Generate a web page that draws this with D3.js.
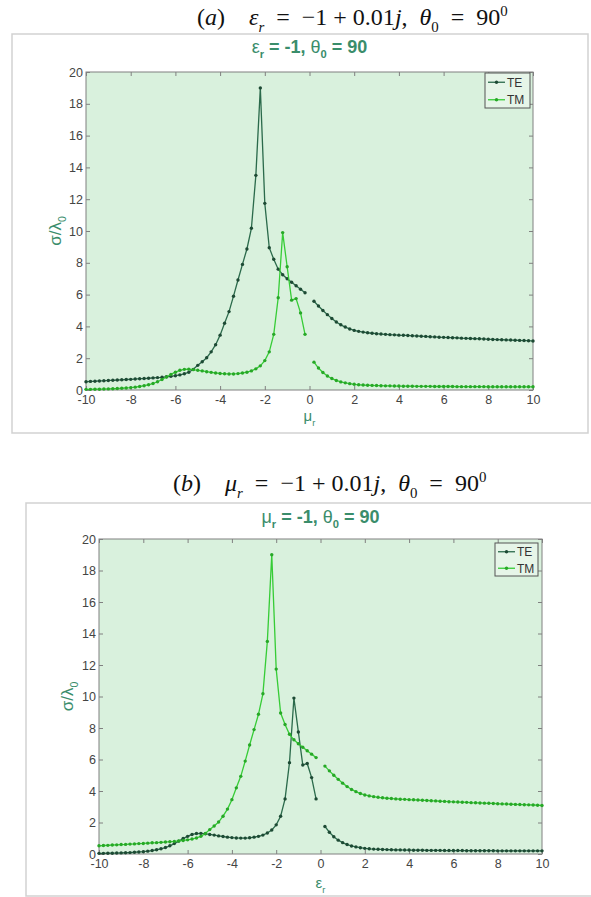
<!DOCTYPE html>
<html>
<head>
<meta charset="utf-8">
<script src="https://cdn.jsdelivr.net/npm/d3@7"></script>
<style>
  body { margin: 0; background: #ffffff; }
  svg { display: block; }
  .pre { white-space: pre; }
</style>
</head>
<body>
<script>
// Sampling grid of the swept parameter (the point at 0 is excluded)
const xLeft = [-10, -9.8, -9.6, -9.4, -9.2, -9, -8.8, -8.6, -8.4, -8.2,
  -8, -7.8, -7.6, -7.4, -7.2, -7, -6.8, -6.6, -6.4, -6.2,
  -6, -5.8, -5.6, -5.4, -5.2, -5, -4.8, -4.6, -4.4, -4.2,
  -4, -3.8, -3.6, -3.4, -3.2, -3, -2.8, -2.6, -2.4, -2.2,
  -2, -1.8, -1.6, -1.4, -1.2, -1, -0.8, -0.6, -0.4, -0.2];
const xRight = [0.2, 0.4, 0.6, 0.8, 1, 1.2, 1.4, 1.6, 1.8, 2,
  2.2, 2.4, 2.6, 2.8, 3, 3.2, 3.4, 3.6, 3.8, 4,
  4.2, 4.4, 4.6, 4.8, 5, 5.2, 5.4, 5.6, 5.8, 6,
  6.2, 6.4, 6.6, 6.8, 7, 7.2, 7.4, 7.6, 7.8, 8,
  8.2, 8.4, 8.6, 8.8, 9, 9.2, 9.4, 9.6, 9.8, 10];

// Curve with the strong resonance near -2.2 (TE for eps_r = -1, TM for mu_r = -1)
const peakLeft = [0.52, 0.54, 0.55, 0.57, 0.58, 0.60, 0.61, 0.63, 0.64, 0.66,
  0.67, 0.69, 0.71, 0.72, 0.74, 0.76, 0.78, 0.80, 0.83, 0.86,
  0.90, 0.95, 1.02, 1.12, 1.30, 1.55, 1.78, 2.03, 2.40, 2.85,
  3.45, 4.20, 4.93, 5.90, 6.92, 7.90, 8.87, 10.17, 13.50, 19.00,
  11.74, 8.95, 8.22, 7.60, 7.25, 7.00, 6.78, 6.56, 6.34, 6.12];
const peakRight = [5.58, 5.28, 5.00, 4.74, 4.50, 4.28, 4.10, 3.96, 3.84, 3.75,
  3.69, 3.64, 3.60, 3.57, 3.54, 3.52, 3.50, 3.48, 3.47, 3.45,
  3.44, 3.43, 3.41, 3.40, 3.38, 3.37, 3.35, 3.34, 3.32, 3.31,
  3.30, 3.29, 3.28, 3.26, 3.25, 3.24, 3.23, 3.22, 3.21, 3.19,
  3.18, 3.17, 3.16, 3.15, 3.14, 3.13, 3.12, 3.11, 3.10, 3.08];

// Curve with the weaker resonance near -1.2 (TM for eps_r = -1, TE for mu_r = -1)
const lowLeft = [0.04, 0.04, 0.05, 0.05, 0.06, 0.07, 0.08, 0.09, 0.11, 0.13,
  0.15, 0.18, 0.22, 0.27, 0.33, 0.41, 0.52, 0.66, 0.82, 0.98,
  1.12, 1.24, 1.30, 1.31, 1.28, 1.24, 1.20, 1.15, 1.11, 1.07,
  1.04, 1.02, 1.01, 1.01, 1.03, 1.07, 1.12, 1.20, 1.33, 1.52,
  1.85, 2.40, 3.50, 5.80, 9.90, 7.75, 5.65, 5.75, 4.85, 3.50];
const lowRight = [1.75, 1.38, 1.10, 0.88, 0.72, 0.60, 0.51, 0.45, 0.40, 0.36,
  0.33, 0.31, 0.30, 0.29, 0.28, 0.27, 0.26, 0.26, 0.25, 0.25,
  0.24, 0.24, 0.24, 0.23, 0.23, 0.23, 0.23, 0.22, 0.22, 0.22,
  0.22, 0.22, 0.21, 0.21, 0.21, 0.21, 0.21, 0.21, 0.21, 0.20,
  0.20, 0.20, 0.20, 0.20, 0.20, 0.20, 0.20, 0.20, 0.20, 0.20];

const xTicks = [-10, -8, -6, -4, -2, 0, 2, 4, 6, 8, 10];
const yTicks = [0, 2, 4, 6, 8, 10, 12, 14, 16, 18, 20];
const seriesNames = ["TE", "TM"];

const colTE = "#2b6a4b", colTEdot = "#1d4a34";
const colTM = "#36cc36", colTMdot = "#27a827";
const plotBg = "#d9f1dd";
const titleCol = "#3a8d6b";
const tickCol = "#444444";
const axisCol = "#808080";

const svg = d3.select("body").append("svg")
  .attr("width", 591).attr("height", 897);

const panels = [
  {
    frame: { x: 12, y: 34, w: 576, h: 399 },
    plot: { l: 86, t: 72, r: 533, b: 390 },
    caption: { y: 25, x: 197, parts: [["(", ""], ["a", "i"], [")    ", ""], ["\u03b5", "i"], ["r", "is"], ["  =  \u22121 + 0.01", ""], ["j", "i"], [",  ", ""], ["\u03b8", "i"], ["0", "s"], ["  =  90", ""], ["0", "p"]] },
    sub: { y: 53, sym: "\u03b5", idx: "r" },
    xlab: { y: 421, sym: "\u03bc", idx: "r" },
    ylabX: 61,
    te: [peakLeft, peakRight],
    tm: [lowLeft, lowRight],
    legend: { x: 485, y: 73, w: 45, h: 35 }
  },
  {
    frame: { x: 26, y: 503, w: 580, h: 393 },
    plot: { l: 99, t: 539, r: 542, b: 854 },
    caption: { y: 491, x: 173, parts: [["(", ""], ["b", "i"], [")    ", ""], ["\u03bc", "i"], ["r", "is"], ["  =  \u22121 + 0.01", ""], ["j", "i"], [",  ", ""], ["\u03b8", "i"], ["0", "s"], ["  =  90", ""], ["0", "p"]] },
    sub: { y: 523, sym: "\u03bc", idx: "r" },
    xlab: { y: 888, sym: "\u03b5", idx: "r" },
    ylabX: 73,
    te: [lowLeft, lowRight],
    tm: [peakLeft, peakRight],
    legend: { x: 495, y: 543, w: 43, h: 33 }
  }
];

function addMath(textSel, parts, size) {
  // parts: [text, flags] where i = italic, s = subscript, p = superscript
  let shift = 0;
  parts.forEach(([t, f]) => {
    const ts = textSel.append("tspan").text(t);
    let target = 0;
    if (f.includes("s")) target = size * 0.3;
    if (f.includes("p")) target = -size * 0.38;
    ts.attr("dy", target - shift);
    shift = target;
    if (f.includes("i")) ts.attr("font-style", "italic");
    if (f.includes("s") || f.includes("p")) ts.attr("font-size", size * 0.62);
  });
}

panels.forEach(p => {
  const g = svg.append("g");
  const { l, t, r, b } = p.plot;

  // caption above the panel
  const cap = g.append("text").attr("class", "pre")
    .attr("x", p.caption.x).attr("y", p.caption.y)
    .attr("font-family", "Liberation Serif, Times New Roman, serif")
    .attr("font-size", 24).attr("fill", "#111");
  addMath(cap, p.caption.parts, 24);

  // figure frame
  g.append("rect")
    .attr("x", p.frame.x).attr("y", p.frame.y)
    .attr("width", p.frame.w).attr("height", p.frame.h)
    .attr("fill", "#ffffff").attr("stroke", "#d2d2d2").attr("stroke-width", 1.5);

  const x = d3.scaleLinear().domain([-10, 10]).range([l, r]);
  const y = d3.scaleLinear().domain([0, 20]).range([b, t]);

  g.append("rect").attr("x", l).attr("y", t)
    .attr("width", r - l).attr("height", b - t).attr("fill", plotBg);

  const fmt = d => String(d);
  const axStyle = sel => {
    sel.select(".domain").remove();
    sel.selectAll(".tick line").attr("stroke", axisCol);
    sel.selectAll(".tick text").attr("fill", tickCol)
      .attr("font-family", "Liberation Sans, Arial, sans-serif").attr("font-size", 12.5);
  };
  g.append("g").attr("transform", `translate(0,${b})`)
    .call(d3.axisBottom(x).tickValues(xTicks).tickSizeInner(-4).tickSizeOuter(0).tickPadding(5).tickFormat(fmt))
    .call(axStyle);
  g.append("g").attr("transform", `translate(0,${t})`)
    .call(d3.axisTop(x).tickValues(xTicks).tickSizeInner(-4).tickSizeOuter(0).tickFormat(""))
    .call(axStyle);
  g.append("g").attr("transform", `translate(${l},0)`)
    .call(d3.axisLeft(y).tickValues(yTicks).tickSizeInner(-4).tickSizeOuter(0).tickPadding(3).tickFormat(fmt))
    .call(axStyle);
  g.append("g").attr("transform", `translate(${r},0)`)
    .call(d3.axisRight(y).tickValues(yTicks).tickSizeInner(-4).tickSizeOuter(0).tickFormat(""))
    .call(axStyle);

  g.append("rect").attr("x", l).attr("y", t)
    .attr("width", r - l).attr("height", b - t)
    .attr("fill", "none").attr("stroke", axisCol).attr("stroke-width", 1);

  const line = d3.line().x(d => x(d[0])).y(d => y(d[1]));
  const drawSeries = (vals, col, dotCol) => {
    [[xLeft, vals[0]], [xRight, vals[1]]].forEach(([xs, ys]) => {
      const pts = xs.map((xv, i) => [xv, ys[i]]);
      g.append("path").datum(pts).attr("d", line)
        .attr("fill", "none").attr("stroke", col).attr("stroke-width", 1.3);
      g.append("g").selectAll("circle").data(pts).join("circle")
        .attr("cx", d => x(d[0])).attr("cy", d => y(d[1])).attr("r", 1.7)
        .attr("fill", dotCol);
    });
  };
  drawSeries(p.te, colTE, colTEdot);
  drawSeries(p.tm, colTM, colTMdot);

  // panel title
  const sub = g.append("text").attr("class", "pre").attr("x", (l + r) / 2).attr("y", p.sub.y)
    .attr("text-anchor", "middle").attr("fill", titleCol)
    .attr("font-family", "Liberation Sans, Arial, sans-serif").attr("font-size", 18)
    .attr("font-weight", "bold");
  addMath(sub, [[p.sub.sym, "n"], [p.sub.idx, "s"], [" = -1, ", ""], ["\u03b8", "n"], ["0", "s"], [" = 90", ""]], 18);
  sub.selectAll("tspan").filter((d, i) => i === 0 || i === 3).attr("font-weight", "normal");

  // x label
  const xl = g.append("text").attr("x", (l + r) / 2).attr("y", p.xlab.y)
    .attr("text-anchor", "middle").attr("fill", titleCol)
    .attr("font-family", "Liberation Sans, Arial, sans-serif").attr("font-size", 15);
  addMath(xl, [[p.xlab.sym, ""], [p.xlab.idx, "s"]], 15);

  // y label
  const yl = g.append("text")
    .attr("transform", `translate(${p.ylabX},${(t + b) / 2}) rotate(-90)`)
    .attr("text-anchor", "middle").attr("fill", titleCol)
    .attr("font-family", "Liberation Sans, Arial, sans-serif").attr("font-size", 17);
  addMath(yl, [["\u03c3/\u03bb", ""], ["0", "s"]], 17);

  // legend
  const L = p.legend;
  const lg = g.append("g");
  lg.append("rect").attr("x", L.x).attr("y", L.y).attr("width", L.w).attr("height", L.h)
    .attr("fill", "#e6f5e8").attr("stroke", "#555").attr("stroke-width", 1);
  const rowH = L.h / 2;
  [[colTE, colTEdot], [colTM, colTMdot]].forEach(([c, dc], i) => {
    const cy = L.y + rowH * (i + 0.5) + 0.5;
    lg.append("line").attr("x1", L.x + 3).attr("x2", L.x + 20)
      .attr("y1", cy).attr("y2", cy).attr("stroke", c).attr("stroke-width", 1.3);
    lg.append("circle").attr("cx", L.x + 11.5).attr("cy", cy).attr("r", 1.7).attr("fill", dc);
    lg.append("text").attr("x", L.x + 22).attr("y", cy + 4.5)
      .attr("font-family", "Liberation Sans, Arial, sans-serif").attr("font-size", 12)
      .attr("fill", "#333").text(seriesNames[i]);
  });
});
</script>
</body>
</html>
